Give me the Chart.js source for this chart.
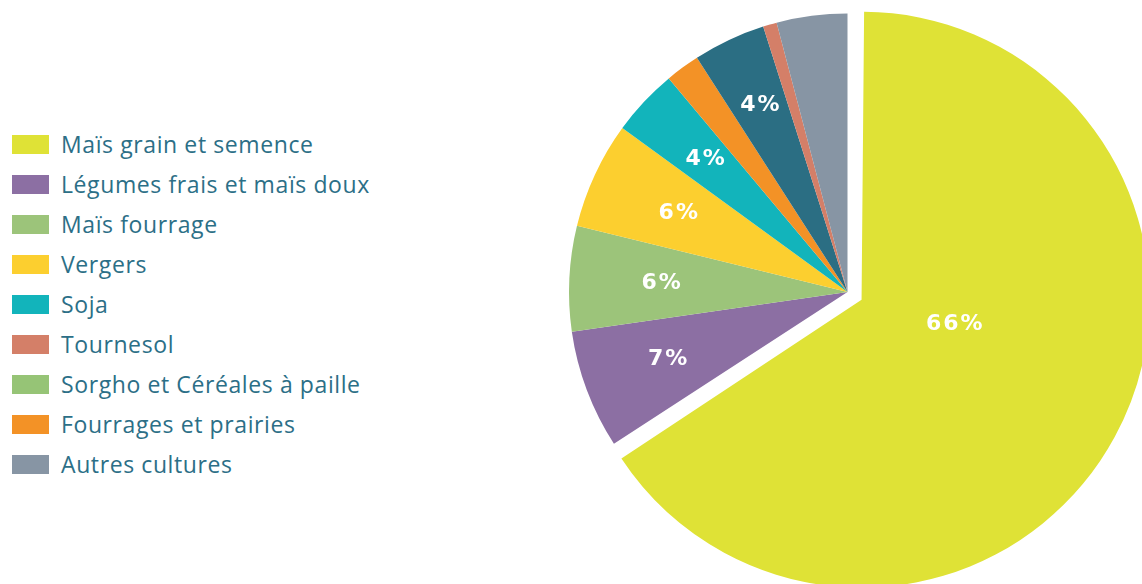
<!DOCTYPE html>
<html>
<head>
<meta charset="utf-8">
<script src="https://cdn.jsdelivr.net/npm/chart.js@4"></script>
<style>
    html, body { margin: 0; padding: 0; background: #fff; }
    body { width: 1142px; height: 584px; position: relative; overflow: hidden; }
    #legend { position: absolute; left: 12px; top: 124px; font-family: "Open Sans", sans-serif; font-size: 23px; letter-spacing: 0.6px; color: #2c6f87; }
    #legend .item { display: flex; align-items: center; height: 40px; line-height: 40px; white-space: nowrap; }
    #legend .box { width: 37px; height: 19px; margin-right: 12px; flex: none; }
    #pie-wrap { position: absolute; left: 553px; top: 0; width: 589px; height: 584px; }
</style>
</head>
<body>
<div id="legend"></div>
<div id="pie-wrap"><canvas id="cultureChart"></canvas></div>
<script>
// Parts des cultures (ordre des parts, sens horaire depuis midi)
const categories = ['Maïs grain et semence', 'Légumes frais et maïs doux', 'Maïs fourrage', 'Vergers', 'Soja',
    'Fourrages et prairies', 'Sorgho et Céréales à paille', 'Tournesol', 'Autres cultures'];
const shares = [65.9, 6.9, 6.1, 6.2, 3.9, 2.0, 4.2, 0.8, 4.1];
const shareLabels = ['66%', '7%', '6%', '6%', '4%', '', '4%', '', ''];
const sliceColors = ['#dfe236', '#8c6fa3', '#9cc47a', '#fccf2f', '#12b4bb', '#f39226', '#2b6e83', '#d47f68', '#8795a4'];

// Légende (ordre et couleurs de la légende d'origine)
const legendNames = ['Maïs grain et semence', 'Légumes frais et maïs doux', 'Maïs fourrage', 'Vergers', 'Soja',
    'Tournesol', 'Sorgho et Céréales à paille', 'Fourrages et prairies', 'Autres cultures'];
const legendColors = ['#dfe236', '#8c6fa3', '#9cc47a', '#fccf2f', '#12b4bb', '#d47f68', '#96c476', '#f39226', '#8795a4'];

const PIE_R = 278.5;
const BIG_OFFSET = 64;  // chart.js translate = offset / 4
const BIG_EXTRA = 9.5;  // la grande part dépasse un peu les autres

// Légende HTML
const legend = document.getElementById('legend');
legendNames.forEach((name, i) => {
    const row = document.createElement('div');
    row.className = 'item';
    const box = document.createElement('span');
    box.className = 'box';
    box.style.background = legendColors[i];
    const txt = document.createElement('span');
    txt.textContent = name;
    row.appendChild(box);
    row.appendChild(txt);
    legend.appendChild(row);
});

// Rayon de la grande part
const bigSlice = {
    id: 'bigSlice',
    afterUpdate(chart) {
        const arc = chart.getDatasetMeta(0).data[0];
        if (arc) arc.outerRadius = PIE_R + BIG_EXTRA - BIG_OFFSET / 4;
    }
};

// Pourcentages en blanc dans les parts
const labelRadius = [0, 0.69, 0.67, 0.67, 0.70, 0.7, 0.74, 0.7, 0.7];
const sliceLabels = {
    id: 'sliceLabels',
    afterDatasetsDraw(chart) {
        const ctx = chart.ctx;
        const meta = chart.getDatasetMeta(0);
        ctx.save();
        ctx.font = 'bold 22px "DejaVu Sans"';
        ctx.letterSpacing = '2px';
        ctx.fillStyle = '#ffffff';
        ctx.textAlign = 'center';
        ctx.textBaseline = 'middle';
        meta.data.forEach((arc, i) => {
            const txt = shareLabels[i];
            if (!txt) return;
            const p = arc.getProps(['x', 'y', 'startAngle', 'endAngle']);
            const off = (arc.options.offset || 0) / 4;
            const mid = (p.startAngle + p.endAngle) / 2;
            const cx = p.x + Math.cos(mid) * off;
            const cy = p.y + Math.sin(mid) * off;
            let ang = mid, dist = PIE_R * labelRadius[i];
            if (i === 0) { ang = 15 * Math.PI / 180; dist = 96; }
            ctx.fillText(txt, cx + Math.cos(ang) * dist + 1, cy + Math.sin(ang) * dist);
        });
        ctx.restore();
    }
};

new Chart(document.getElementById('cultureChart'), {
    type: 'pie',
    data: {
        labels: categories,
        datasets: [{
            data: shares,
            backgroundColor: sliceColors,
            borderWidth: 0,
            hoverOffset: 0,
            offset: categories.map((c, i) => i === 0 ? BIG_OFFSET : 0)
        }]
    },
    options: {
        responsive: true,
        maintainAspectRatio: false,
        animation: false,
        events: [],
        radius: PIE_R,
        layout: {padding: 0},
        plugins: {legend: {display: false}, tooltip: {enabled: false}}
    },
    plugins: [bigSlice, sliceLabels]
});
</script>
</body>
</html>
